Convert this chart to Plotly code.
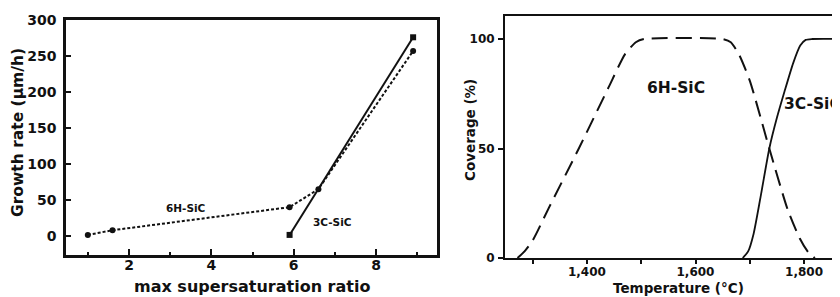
import plotly.graph_objects as go

# ---------------- data ----------------
# left panel: growth rate vs max supersaturation ratio
sat_6h = [1.0, 1.6, 5.9, 6.6, 8.9]
rate_6h = [1.5, 8, 40, 65, 257]
sat_3c = [5.9, 8.9]
rate_3c = [1.5, 276]

# right panel: coverage vs temperature
temp_6h = [1272, 1285, 1300, 1330, 1385, 1440, 1470, 1490, 1505, 1650, 1665, 1680, 1700, 1736, 1770, 1792, 1808, 1820]
cov_6h = [0, 3, 8, 23, 50, 78, 93, 98.5, 100, 100, 98.5, 93, 81, 50, 22, 9, 2.5, 0]
temp_3c = [1687, 1697, 1707, 1720, 1736, 1750, 1764, 1780, 1793, 1803, 1815, 1881]
cov_3c = [0, 3, 11, 28, 50, 64, 76, 89, 97, 99.6, 100, 100]

FONT = "DejaVu Sans"
ink = "#111111"

fig = go.Figure()

fig.add_trace(go.Scatter(
    x=sat_6h, y=rate_6h, mode="lines+markers", xaxis="x", yaxis="y",
    line=dict(color=ink, width=2, dash="3px,2px"),
    marker=dict(symbol="circle", size=6, color=ink), showlegend=False))
fig.add_trace(go.Scatter(
    x=sat_3c, y=rate_3c, mode="lines+markers", xaxis="x", yaxis="y",
    line=dict(color=ink, width=2),
    marker=dict(symbol="square", size=6, color=ink), showlegend=False))

fig.add_trace(go.Scatter(
    x=temp_6h, y=cov_6h, mode="lines", xaxis="x2", yaxis="y2",
    line=dict(color=ink, width=2, dash="16px,8px", shape="spline", smoothing=0.6),
    showlegend=False, cliponaxis=False))
fig.add_trace(go.Scatter(
    x=temp_3c, y=cov_3c, mode="lines", xaxis="x2", yaxis="y2",
    line=dict(color=ink, width=1.8, shape="spline", smoothing=0.6),
    showlegend=False))

W, H = 840, 297
OX, OY = 8, 8   # page offset of the figure inside the browser window

def xd(a, b):
    return [(a - OX) / W, min(1.0, (b - OX) / W)]

def yd(top, bottom):
    return [(H - (bottom - OY)) / H, (H - (top - OY)) / H]

tick_font_l = dict(family=FONT, size=14, color=ink, weight="bold")
tick_font_r = dict(family=FONT, size=12, color=ink, weight="bold")

fig.update_layout(
    width=W, height=H,
    margin=dict(l=0, r=0, t=0, b=0, autoexpand=False),
    paper_bgcolor="white", plot_bgcolor="white",
    xaxis=dict(
        domain=xd(66, 437), range=[0.47, 9.48], automargin=False,
        showgrid=False, zeroline=False,
        showline=True, linecolor=ink, linewidth=2.5, mirror=True,
        tickmode="linear", tick0=0, dtick=2,
        ticks="inside", ticklen=6, tickwidth=2, tickcolor=ink,
        minor=dict(dtick=1, tick0=0, ticks="inside", ticklen=3, tickwidth=1.5, tickcolor=ink),
        tickfont=tick_font_l, ticklabelstandoff=-5,
    ),
    yaxis=dict(
        domain=yd(20, 255), range=[-26.4, 300], automargin=False,
        showgrid=False, zeroline=False,
        showline=True, linecolor=ink, linewidth=2.5, mirror=True,
        tickmode="linear", tick0=0, dtick=50,
        ticks="inside", ticklen=5, tickwidth=2, tickcolor=ink,
        tickfont=tick_font_l, ticklabelstandoff=4,
    ),
    xaxis2=dict(
        domain=xd(505, 848), range=[1249, 1881], anchor="y2", automargin=False,
        showgrid=False, zeroline=False,
        showline=True, linecolor=ink, linewidth=2, mirror=True,
        tickmode="linear", tick0=1400, dtick=200, tickformat=",",
        ticks="outside", ticklen=4, tickwidth=2, tickcolor=ink,
        minor=dict(dtick=100, tick0=1300, ticks="outside", ticklen=4, tickwidth=2, tickcolor=ink),
        tickfont=tick_font_r, ticklabelstandoff=-2,
    ),
    yaxis2=dict(
        domain=yd(16, 258), range=[0, 110.5], anchor="x2", automargin=False,
        showgrid=False, zeroline=False,
        showline=True, linecolor=ink, linewidth=2,
        tickmode="array", tickvals=[0, 50, 100],
        ticks="outside", ticklen=5, tickwidth=2, tickcolor=ink,
        tickfont=tick_font_r, ticklabelstandoff=1,
    ),
)

ann = []
def a(text, x, y, size, xanchor="center", angle=0):
    ann.append(dict(text=text, x=(x - OX) / W, y=1 - (y - OY) / H, xref="paper", yref="paper",
                    showarrow=False, xanchor=xanchor, yanchor="middle", textangle=angle,
                    font=dict(family=FONT, size=size, color=ink, weight="bold")))

a("max supersaturation ratio", 252, 286, 16)
a("Growth rate (µm/h)", 18, 133, 15.5, angle=-90)
a("6H-SiC", 186, 208, 10.5)
a("3C-SiC", 332, 222, 10.5)
a("Coverage (%)", 470, 130, 13.5, angle=-90)
a("Temperature (°C)", 678, 288, 13.5)
a("6H-SiC", 676, 88, 15.5)
a("3C-SiC", 782, 104, 15.5, xanchor="left")
fig.update_layout(annotations=ann)

fig.write_html("out.html")
